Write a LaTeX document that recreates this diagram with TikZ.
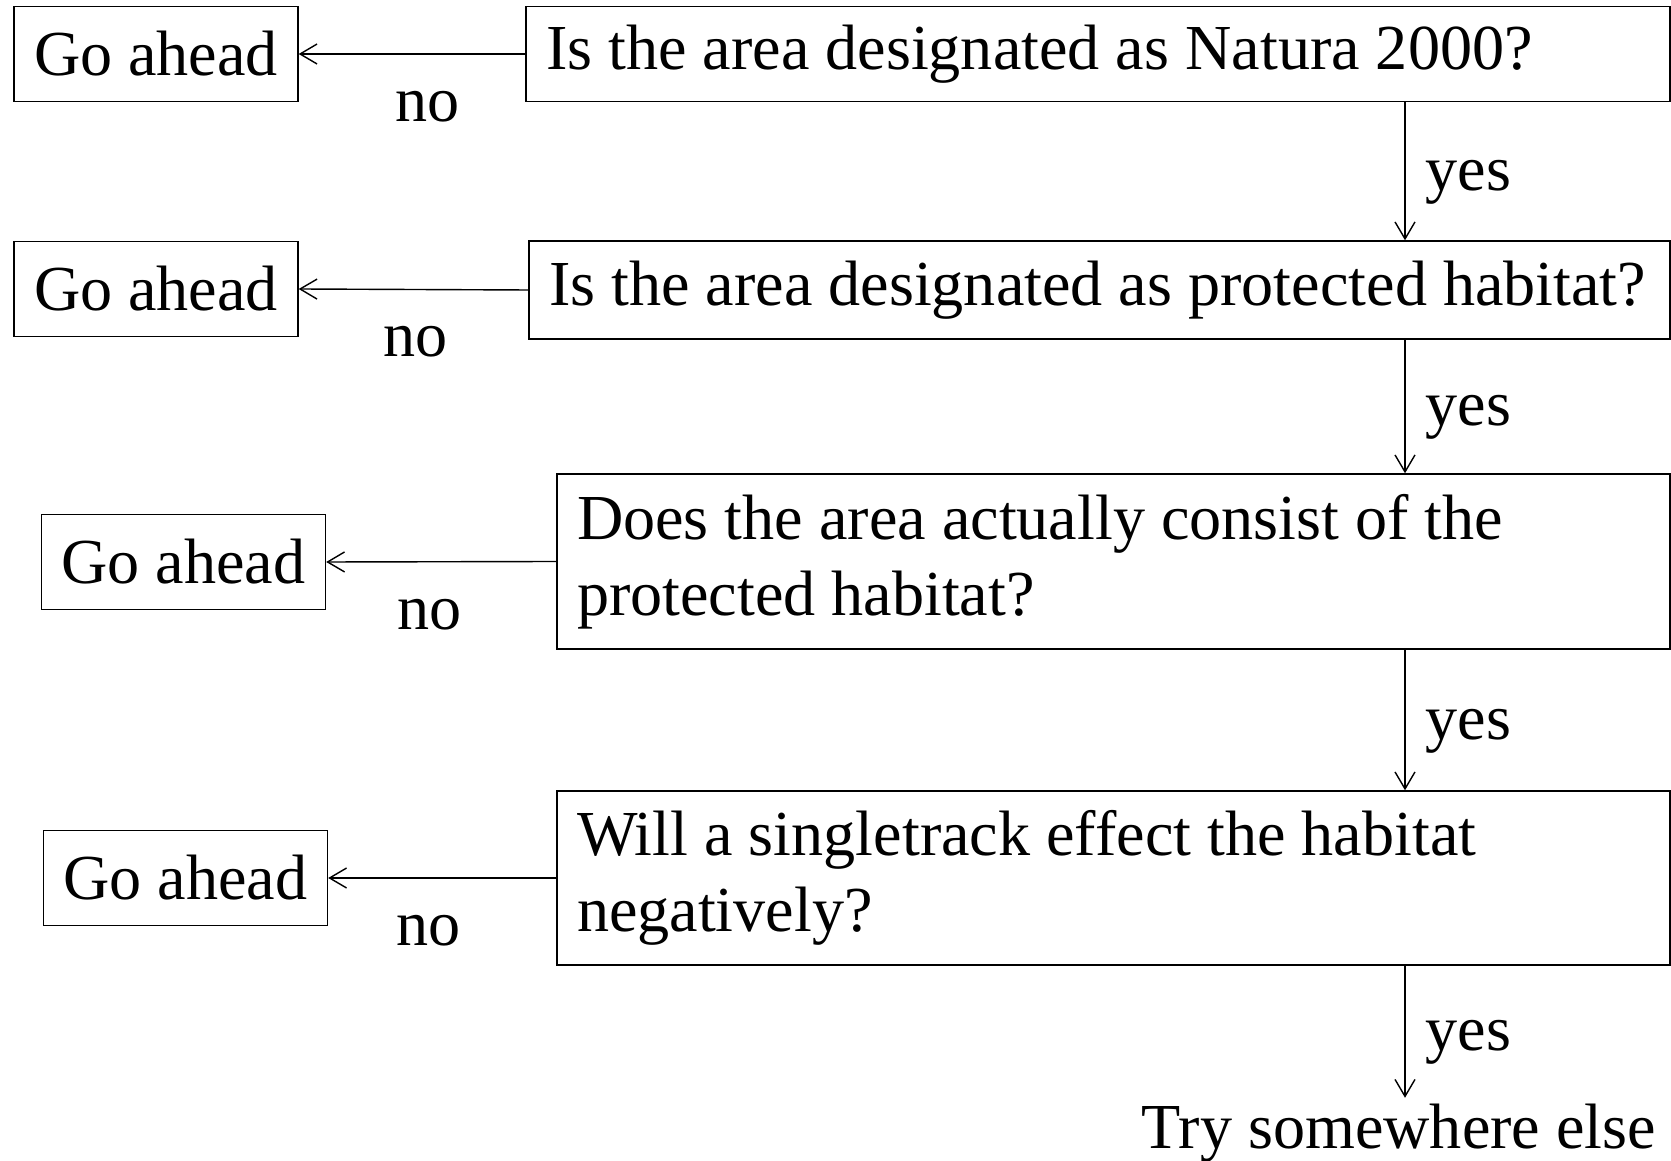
\documentclass[tikz,border=0pt]{standalone}
\usepackage{fontspec}
\setmainfont{Liberation Serif}
\usetikzlibrary{arrows.meta}

\tikzset{
    gobox/.style={draw, minimum width=5.68cm, minimum height=1.91cm, inner sep=0pt},
    askbox/.style={draw, inner xsep=0.4cm, inner ysep=0pt, align=flush left},
    nolabel/.style={yshift=-1.05cm},
    yeslabel/.style={midway, right=0.28cm, yshift=-0.22cm}
}

\begin{document}
\begin{tikzpicture}[line width=0.8pt, >={Straight Barb[length=3.4mm,width=4mm]},
    font=\fontsize{36.5}{43.5}\selectfont]

    \useasboundingbox (0,0) rectangle (33.42,23.2);

    % Question column
    \node at (21.96, 22.12) (Q1) [askbox, text width=22.08cm, minimum height=1.91cm] {Is the area designated as Natura 2000?};
    \node at (21.99, 17.40) (Q2) [askbox, text width=22.02cm, minimum height=1.96cm] {Is the area designated as protected habitat?};
    \node at (22.27, 11.97) (Q3) [askbox, text width=21.46cm, minimum height=3.5cm] {Does the area actually consist of the\\protected habitat?};
    \node at (22.27, 5.64) (Q4) [askbox, text width=21.46cm, minimum height=3.48cm] {Will a singletrack effect the habitat\\negatively?};
    \node at (27.98, 0.24) (Try) [anchor=base, inner sep=0.1cm] {Try somewhere else};

    % Go ahead column
    \node at (3.12, 22.12) (G1) [gobox] {Go ahead};
    \node at (3.12, 17.42) (G2) [gobox] {Go ahead};
    \node at (3.67, 11.96) (G3) [gobox] {Go ahead};
    \node at (3.71, 5.64) (G4) [gobox] {Go ahead};

    % x of the yes arrows
    \coordinate (spine) at (28.1, 0);

    % no arrows
    \draw[->] (Q1.west) -- (G1.east) node[nolabel, pos=0.43] {no};
    \draw[->] (Q2.west) -- (G2.east) node[nolabel, pos=0.49] {no};
    \draw[->] (Q3.west) -- (G3.east) node[nolabel, pos=0.55] {no};
    \draw[->] (Q4.west) -- (G4.east) node[nolabel, pos=0.56] {no};

    % yes arrows
    \draw[->] (Q1.south -| spine) -- (Q2.north -| spine) node[yeslabel] {yes};
    \draw[->] (Q2.south -| spine) -- (Q3.north -| spine) node[yeslabel] {yes};
    \draw[->] (Q3.south -| spine) -- (Q4.north -| spine) node[yeslabel] {yes};
    \draw[->] (Q4.south -| spine) -- (Try.north -| spine) node[yeslabel] {yes};

\end{tikzpicture}
\end{document}
